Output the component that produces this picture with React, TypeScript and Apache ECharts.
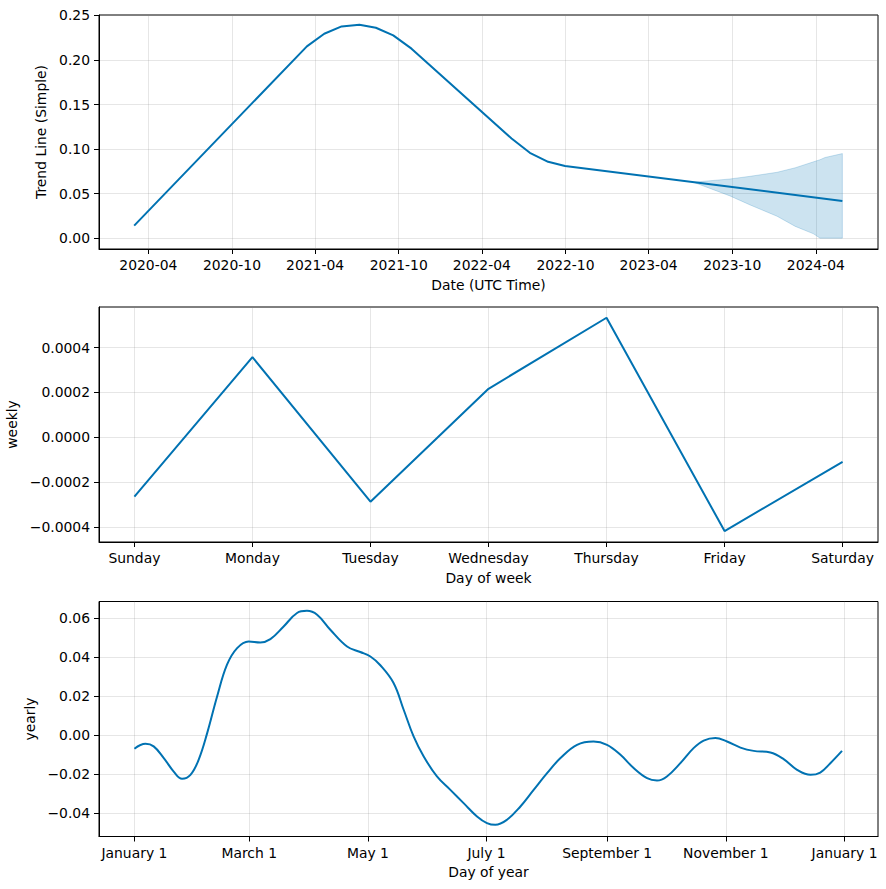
import React, { useEffect, useRef } from 'react';
import * as echarts from 'echarts';

// ---------- data ----------
const trendDates = ['2020-03-01', '2021-03-14', '2021-04-21', '2021-05-29', '2021-07-07', '2021-08-12', '2021-09-19', '2021-10-29', '2022-06-05', '2022-07-15', '2022-08-24', '2022-09-30', '2024-05-29'];
const trendValues = [0.0141, 0.2153, 0.2295, 0.2377, 0.2396, 0.2362, 0.2276, 0.2127, 0.1119, 0.0958, 0.0857, 0.0809, 0.0418];

const bandDates = ['2023-07-08', '2023-09-26', '2023-11-09', '2024-01-07', '2024-02-16', '2024-03-27', '2024-04-10', '2024-04-21', '2024-05-29'];
const bandUpper = [0.0628, 0.0664, 0.0694, 0.0739, 0.0790, 0.0857, 0.0880, 0.0905, 0.0949];
const bandLower = [0.0628, 0.0474, 0.0373, 0.0246, 0.0132, 0.0048, 0.0, 0.0, 0.0];

const trendTickDates = ['2020-04-01', '2020-10-01', '2021-04-01', '2021-10-01', '2022-04-01', '2022-10-01', '2023-04-01', '2023-10-01', '2024-04-01'];
const trendYTicks = [0, 0.05, 0.1, 0.15, 0.2, 0.25];

const weekDays = ['Sunday', 'Monday', 'Tuesday', 'Wednesday', 'Thursday', 'Friday', 'Saturday'];
const weeklyValues = [-0.000265, 0.000357, -0.000288, 0.000216, 0.000533, -0.000419, -0.00011];
const weeklyYTicks = [-0.0004, -0.0002, 0, 0.0002, 0.0004];

const yearlyDays = [0, 5.7, 9.9, 15.1, 20.2, 24.5, 28.8, 33.0, 37.4, 42.5, 47.6, 52.8, 58.7, 64.7, 69.9, 76.7, 83.6, 88.7, 93.9, 100.7, 109.3, 116.1, 121.3, 126.4, 133.2, 138.4, 143.5, 148.7, 155.5, 162.4, 169.2, 176.1, 181.2, 185.5, 191.5, 198.4, 205.2, 212.1, 219.0, 227.5, 236.0, 242.9, 249.7, 256.6, 263.5, 268.6, 273.7, 280.6, 287.4, 292.6, 298.6, 304.6, 311.5, 318.3, 326.9, 333.7, 340.6, 347.5, 352.5, 357.7, 363.7];
const yearlyValues = [-0.0070, -0.0045, -0.0058, -0.0118, -0.0187, -0.0224, -0.0204, -0.0127, 0.0010, 0.0198, 0.0361, 0.0446, 0.0480, 0.0475, 0.0492, 0.0557, 0.0626, 0.0637, 0.0617, 0.0540, 0.0454, 0.0426, 0.0403, 0.0358, 0.0267, 0.0130, -0.0007, -0.0110, -0.0212, -0.0281, -0.0349, -0.0417, -0.0451, -0.0460, -0.0434, -0.0366, -0.0281, -0.0195, -0.0118, -0.0050, -0.0033, -0.0050, -0.0100, -0.0169, -0.0221, -0.0233, -0.0212, -0.0144, -0.0067, -0.0028, -0.0015, -0.0033, -0.0064, -0.0081, -0.0089, -0.0123, -0.0178, -0.0204, -0.0192, -0.0144, -0.0081];
const yearlyTickDays = [0, 59, 120, 181, 243, 304, 365];
const yearlyTickLabels = ['January 1', 'March 1', 'May 1', 'July 1', 'September 1', 'November 1', 'January 1'];
const yearlyYTicks = [-0.04, -0.02, 0, 0.02, 0.04, 0.06];

// ---------- helpers ----------
const FONT = 'DejaVu Sans';
const BLUE = '#0072B2';
const BAND = 'rgba(0,114,178,0.2)';
const FS = 13.9;
const ts = (s: string) => Date.parse(s + 'T00:00:00Z');
const pad = (n: number) => (n < 10 ? '0' + n : '' + n);
const minus = (s: string) => s.replace('-', '\u2212');

const textStyle = { color: '#000', fontSize: FS, fontFamily: FONT };
const gridLine = { show: true, lineStyle: { color: 'rgba(128,128,128,0.2)', width: 1 } };

function axis(gridIndex: number, min: number, max: number, ticks: number[], formatter: (v: number) => string, name: string, nameGap: number) {
  return {
    type: 'value', gridIndex, min, max,
    axisLine: { show: true, onZero: false, lineStyle: { color: '#000', width: 1 } },
    axisTick: { show: true, length: 5, lineStyle: { color: '#000', width: 1 }, customValues: ticks },
    axisLabel: { ...textStyle, margin: 9, customValues: ticks, formatter },
    splitLine: gridLine,
    name, nameLocation: 'middle', nameGap, nameTextStyle: textStyle,
  };
}

const gridBase = { left: 99, width: 779, show: true, borderColor: '#000', borderWidth: 1, containLabel: false, outerBoundsMode: 'none' };

export default function App() {
  const ref = useRef<HTMLDivElement>(null);
  useEffect(() => {
    if (!ref.current) return;
    const chart = echarts.init(ref.current, undefined, { renderer: 'svg' });
    const trendTicks = trendTickDates.map(ts);
    const option: any = {
      animation: false,
      backgroundColor: '#fff',
      grid: [
        { ...gridBase, top: 15, height: 234 },
        { ...gridBase, top: 307, height: 235 },
        { ...gridBase, top: 601.5, height: 235 },
      ],
      xAxis: [
        axis(0, ts('2019-12-15'), ts('2024-08-15'), trendTicks, (v: number) => {
          const d = new Date(v);
          return d.getUTCFullYear() + '-' + pad(d.getUTCMonth() + 1);
        }, 'Date (UTC Time)', 29),
        axis(1, -0.3, 6.3, [0, 1, 2, 3, 4, 5, 6], (v: number) => weekDays[Math.round(v)] ?? '', 'Day of week', 29),
        axis(2, -18.2, 382.2, yearlyTickDays, (v: number) => {
          const i = yearlyTickDays.indexOf(Math.round(v));
          return i >= 0 ? yearlyTickLabels[i] : '';
        }, 'Day of year', 28),
      ],
      yAxis: [
        axis(0, -0.0122, 0.2505, trendYTicks, (v: number) => minus(v.toFixed(2)), 'Trend Line (Simple)', 44),
        axis(1, -0.000468, 0.000581, weeklyYTicks, (v: number) => minus(v.toFixed(4)), 'weekly', 72),
        axis(2, -0.052, 0.0685, yearlyYTicks, (v: number) => minus(v.toFixed(2)), 'yearly', 55),
      ],
      series: [
        {
          type: 'custom', xAxisIndex: 0, yAxisIndex: 0, silent: true, z: 1,
          data: [[ts(bandDates[0]), bandUpper[0]]],
          renderItem: (params: any, api: any) => {
            const pts: number[][] = [];
            for (let i = 0; i < bandDates.length; i++) pts.push(api.coord([ts(bandDates[i]), bandUpper[i]]));
            for (let i = bandDates.length - 1; i >= 0; i--) pts.push(api.coord([ts(bandDates[i]), bandLower[i]]));
            return {
              type: 'polygon',
              shape: { points: pts },
              style: { fill: BAND, stroke: BAND, lineWidth: 1 },
            };
          },
        },
        {
          type: 'line', xAxisIndex: 0, yAxisIndex: 0, silent: true,
          data: trendDates.map((d, i) => [ts(d), trendValues[i]]),
          symbol: 'none', lineStyle: { color: BLUE, width: 2 }, z: 3,
        },
        {
          type: 'line', xAxisIndex: 1, yAxisIndex: 1, silent: true,
          data: weeklyValues.map((v, i) => [i, v]),
          symbol: 'none', lineStyle: { color: BLUE, width: 2 }, z: 3,
        },
        {
          type: 'line', xAxisIndex: 2, yAxisIndex: 2, silent: true, smooth: 0.4,
          data: yearlyDays.map((d, i) => [d, yearlyValues[i]]),
          symbol: 'none', lineStyle: { color: BLUE, width: 2 }, z: 3,
        },
      ],
    };
    chart.setOption(option);
    return () => chart.dispose();
  }, []);
  return <div ref={ref} style={{ position: 'fixed', left: 0, top: 0, width: 886, height: 889, background: '#fff' }} />;
}
